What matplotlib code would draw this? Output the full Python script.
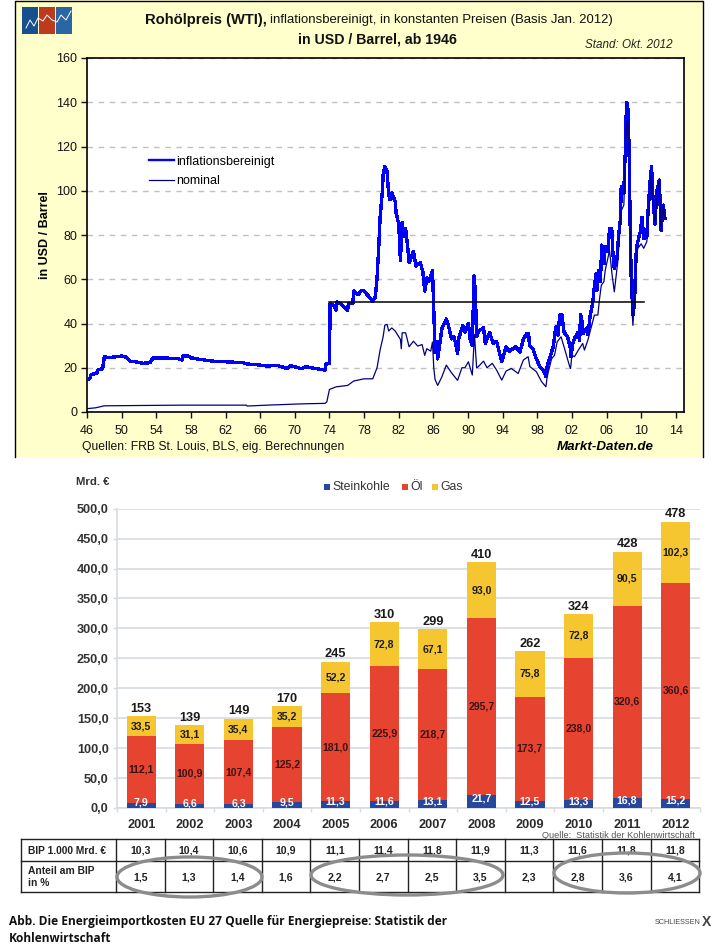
import matplotlib
matplotlib.use('Agg')
import matplotlib.pyplot as plt
from matplotlib.patches import Rectangle, Ellipse

plt.rcParams['font.family'] = ['Liberation Sans', 'DejaVu Sans']

W, H = 718, 948

# oil price, inflation adjusted (year, USD / barrel)
real_years = [
    1946.0, 1946.3, 1946.5, 1947.1, 1947.3, 1947.8, 1948.0, 1948.4, 1949.0, 1950.0,
    1950.5, 1951.0, 1951.7, 1952.5, 1953.3, 1953.6, 1954.8, 1956.4, 1957.0, 1957.1,
    1957.7, 1958.0, 1959.0, 1960.5, 1962.1, 1964.0, 1964.5, 1965.6, 1966.8, 1968.0,
    1969.1, 1969.5, 1970.8, 1971.2, 1972.9, 1973.5, 1973.6, 1974.0, 1974.08, 1974.5,
    1974.75, 1974.85, 1975.3, 1976.1, 1976.2, 1976.7, 1976.8, 1977.3, 1977.7, 1978.0,
    1978.5, 1979.0, 1979.3, 1979.5, 1979.7, 1979.85, 1980.1, 1980.2, 1980.4, 1980.65,
    1980.85, 1981.0, 1981.2, 1981.6, 1981.7, 1982.0, 1982.2, 1982.4, 1982.6, 1982.8,
    1983.1, 1983.2, 1983.7, 1984.0, 1984.5, 1984.8, 1985.0, 1985.25, 1985.5, 1985.9,
    1986.05, 1986.2, 1986.4, 1986.5, 1986.75, 1987.0, 1987.5, 1987.75, 1988.1, 1988.4,
    1988.8, 1988.95, 1989.4, 1989.65, 1990.05, 1990.25, 1990.5, 1990.7, 1990.85, 1991.0,
    1991.2, 1991.8, 1992.0, 1992.5, 1992.9, 1993.3, 1993.9, 1994.4, 1994.8, 1995.5,
    1996.0, 1996.4, 1996.8, 1997.0, 1997.1, 1997.5, 1997.9, 1998.3, 1998.7, 1999.0,
    1999.15, 1999.4, 1999.85, 2000.15, 2000.4, 2000.6, 2000.85, 2001.1, 2001.5, 2001.8,
    2001.9, 2002.1, 2002.4, 2002.7, 2002.9, 2003.0, 2003.15, 2003.3, 2003.7, 2003.85,
    2004.15, 2004.4, 2004.55, 2004.8, 2004.9, 2005.1, 2005.3, 2005.45, 2005.7, 2005.85,
    2006.15, 2006.35, 2006.6, 2006.75, 2006.9, 2007.2, 2007.4, 2007.6, 2007.7, 2008.0,
    2008.1, 2008.2, 2008.3, 2008.45, 2008.6, 2008.75, 2008.85, 2009.05, 2009.25, 2009.3,
    2009.45, 2009.7, 2009.9, 2010.1, 2010.3, 2010.65, 2010.8, 2011.05, 2011.2, 2011.35,
    2011.6, 2011.8, 2012.1, 2012.3, 2012.55, 2012.75,
]
real_price = [
    14.7, 15.0, 17.0, 17.4, 19.2, 19.5, 25.0, 24.5, 24.8, 25.3,
    24.8, 23.0, 22.6, 22.0, 22.3, 24.4, 24.4, 24.2, 23.5, 25.3,
    25.3, 24.5, 23.8, 23.0, 22.7, 22.3, 21.7, 21.4, 20.8, 21.0,
    19.7, 21.0, 19.5, 20.5, 19.3, 19.0, 21.7, 22.0, 49.0, 48.0,
    46.0, 49.7, 49.0, 46.0, 49.0, 49.0, 54.7, 53.0, 55.0, 54.7,
    52.4, 50.0, 52.0, 60.7, 75.0, 88.0, 99.0, 107.0, 111.0, 109.0,
    98.0, 96.0, 99.0, 95.0, 90.0, 85.0, 68.5, 85.6, 79.6, 83.0,
    72.0, 67.5, 72.5, 66.0, 67.5, 63.0, 54.7, 60.7, 59.0, 64.0,
    46.4, 26.8, 32.0, 24.0, 31.0, 38.0, 42.0, 39.0, 33.0, 34.0,
    26.5, 33.5, 39.0, 36.0, 40.0, 33.0, 30.0, 61.5, 54.0, 34.0,
    36.5, 38.0, 31.0, 36.0, 31.0, 32.0, 22.7, 29.5, 27.5, 29.5,
    27.0, 33.0, 35.5, 35.5, 30.0, 28.7, 24.0, 20.5, 19.0, 16.0,
    20.5, 24.0, 29.5, 38.5, 34.8, 43.8, 44.0, 36.0, 34.0, 29.5,
    25.0, 31.0, 34.0, 36.0, 32.5, 44.0, 41.5, 35.5, 38.0, 35.0,
    44.5, 49.0, 55.0, 62.6, 55.0, 64.0, 59.0, 75.4, 67.0, 74.7,
    72.4, 83.0, 83.0, 71.0, 65.0, 69.0, 80.0, 86.7, 101.7, 98.7,
    111.5, 119.0, 140.0, 138.6, 120.6, 80.0, 61.0, 43.8, 49.8, 58.8,
    73.9, 78.4, 81.4, 88.0, 78.4, 79.0, 91.0, 104.8, 111.0, 98.0,
    85.0, 99.5, 104.8, 82.0, 93.5, 87.4,
]

# oil price, nominal
nominal_years = [
    1946.0, 1947.0, 1948.0, 1957.0, 1964.4, 1964.5, 1966.8, 1971.0, 1973.5, 1973.7,
    1974.0, 1974.8, 1976.1, 1976.8, 1978.0, 1979.0, 1979.5, 1979.85, 1980.2, 1980.4,
    1980.65, 1980.85, 1981.2, 1981.6, 1982.2, 1982.3, 1982.4, 1982.8, 1983.2, 1983.7,
    1984.2, 1984.7, 1985.0, 1985.25, 1985.7, 1985.9, 1986.05, 1986.2, 1986.5, 1987.0,
    1987.5, 1988.1, 1988.8, 1989.3, 1989.65, 1990.05, 1990.5, 1990.75, 1991.0, 1991.2,
    1991.8, 1992.2, 1992.8, 1993.3, 1993.9, 1994.4, 1995.0, 1995.8, 1996.4, 1996.95,
    1997.15, 1997.9, 1998.5, 1999.0, 1999.15, 1999.65, 2000.0, 2000.3, 2000.75, 2001.15,
    2001.75, 2001.85, 2002.0, 2002.3, 2002.75, 2003.25, 2003.45, 2003.85, 2004.2, 2004.6,
    2005.0, 2005.2, 2005.4, 2005.7, 2005.85, 2006.35, 2006.65, 2006.9, 2007.3, 2007.7,
    2008.0, 2008.3, 2008.45, 2008.6, 2008.75, 2008.85, 2009.05, 2009.2, 2009.35, 2009.6,
    2010.0, 2010.3, 2010.65, 2010.9, 2011.15, 2011.3, 2011.6, 2011.9, 2012.1, 2012.3,
    2012.55, 2012.75,
]
nominal_price = [
    1.5, 1.9, 2.8, 3.1, 3.1, 2.7, 3.1, 3.7, 3.9, 4.6,
    10.2, 11.4, 12.0, 14.0, 15.0, 15.0, 20.0, 28.0, 34.0, 39.3,
    39.6, 36.6, 38.0, 36.6, 32.8, 28.6, 35.8, 35.8, 29.5, 32.0,
    29.8, 30.5, 25.6, 28.6, 27.5, 31.6, 20.0, 14.7, 12.0, 16.0,
    21.2, 17.7, 14.3, 20.0, 20.0, 22.7, 16.7, 35.0, 20.0, 20.5,
    23.0, 20.0, 22.0, 19.0, 14.4, 18.5, 19.7, 17.4, 23.5, 25.0,
    20.5, 18.2, 13.7, 11.4, 16.0, 24.0, 25.7, 31.7, 34.0, 28.7,
    20.5, 19.7, 25.7, 25.0, 28.0, 31.0, 28.0, 32.5, 37.8, 43.8,
    43.8, 51.3, 57.3, 58.9, 64.0, 73.0, 61.8, 54.3, 67.9, 91.0,
    93.5, 128.0, 132.6, 120.6, 80.0, 52.8, 39.2, 49.0, 64.0, 73.9,
    76.0, 74.0, 77.0, 91.0, 107.0, 98.0, 86.0, 100.0, 105.5, 82.0,
    93.5, 87.4,
]

price_ticks = [0, 20, 40, 60, 80, 100, 120, 140, 160]
year_ticks = list(range(1946, 2015, 4))
level_years = [1974.0, 2010.3]
level_price = [49.7, 49.7]

# energy import costs EU 27
cost_years = ['2001', '2002', '2003', '2004', '2005', '2006', '2007', '2008', '2009', '2010', '2011', '2012']
coal = [7.9, 6.6, 6.3, 9.5, 11.3, 11.6, 13.1, 21.7, 12.5, 13.3, 16.8, 15.2]
oil = [112.1, 100.9, 107.4, 125.2, 181.0, 225.9, 218.7, 295.7, 173.7, 238.0, 320.6, 360.6]
gas = [33.5, 31.1, 35.4, 35.2, 52.2, 72.8, 67.1, 93.0, 75.8, 72.8, 90.5, 102.3]
totals = [153, 139, 149, 170, 245, 310, 299, 410, 262, 324, 428, 478]
cost_ticks = [0, 50, 100, 150, 200, 250, 300, 350, 400, 450, 500]

bip = ['10,3', '10,4', '10,6', '10,9', '11,1', '11,4', '11,8', '11,9', '11,3', '11,6', '11,8', '11,8']
share = ['1,5', '1,3', '1,4', '1,6', '2,2', '2,7', '2,5', '3,5', '2,3', '2,8', '3,6', '4,1']


def de(v, digits=1):
    return f'{v:.{digits}f}'.replace('.', ',')


def px_axes(fig, left, top, right, bottom, **kw):
    return fig.add_axes([left / W, 1 - bottom / H, (right - left) / W, (bottom - top) / H], **kw)


fig = plt.figure(figsize=(W / 100, H / 100), dpi=100, facecolor='white')

# full page layer in pixel coordinates, for the frame, texts and the table
page = px_axes(fig, 0, 0, W, H, zorder=0)
page.set_xlim(0, W)
page.set_ylim(H, 0)
page.axis('off')

panel_color = '#ffffcc'
page.add_patch(Rectangle((15, 0), 688, 457, fc=panel_color, ec='none'))
page.plot([15, 15, 703, 703], [457, 0.5, 0.5, 457], color='black', lw=1)

# logo
for x0, c in zip([22, 39, 56], ['#17508f', '#bd3a1e', '#2a66a5']):
    page.add_patch(Rectangle((x0, 7), 15.5, 27, fc=c, ec='none'))
page.plot([26, 30, 34, 38, 43, 47, 52, 57, 61, 66, 71],
          [28, 20, 26, 18, 21, 15, 20, 22, 15, 20, 11], color='white', lw=0.7)

page.text(145, 20, 'Rohölpreis (WTI),', fontsize=10.6, fontweight='bold', va='center', color='#111111')
page.text(270, 20, 'inflationsbereinigt, in konstanten Preisen (Basis Jan. 2012)', fontsize=9.45,
          va='center', color='#111111')
page.text(377, 39, 'in USD / Barrel, ab 1946', fontsize=10.2, fontweight='bold', ha='center', va='center',
          color='#111111')
page.text(585, 44.5, 'Stand: Okt. 2012', fontsize=8.4, style='italic', va='center', color='#222222')
page.text(82, 447, 'Quellen: FRB St. Louis, BLS, eig. Berechnungen', fontsize=8.7, va='center', color='#111111')
page.text(557, 447, 'Markt-Daten.de', fontsize=9.6, fontweight='bold', style='italic', va='center', color='black')

# price chart
ax = px_axes(fig, 87, 58, 684, 412, zorder=1)
ax.set_facecolor('white')
ax.plot(real_years, real_price, color='#0000ff', lw=1.7, antialiased=False, label='inflationsbereinigt', zorder=3)
ax.plot(nominal_years, nominal_price, color='#000080', lw=0.9, label='nominal', zorder=4)
ax.plot(level_years, level_price, color='black', lw=1.1, zorder=5)
ax.set_xlim(1946, 2014.95)
ax.set_ylim(0, 160)
ax.set_yticks(price_ticks)
ax.set_xticks(year_ticks)
ax.set_xticklabels([f'{y % 100:02d}' for y in year_ticks])
ax.tick_params(labelsize=9, length=4, width=1, pad=5, colors='#111111')
ax.tick_params(axis='y', pad=3)
ax.yaxis.grid(True, color='#c0c0c0', ls=(0, (4, 4)), lw=1)
ax.set_axisbelow(True)
ax.set_ylabel('in USD / Barrel', fontsize=9, fontweight='bold', labelpad=4)
for s in ax.spines.values():
    s.set_linewidth(1.2)
ax.legend(loc='upper left', bbox_to_anchor=(0.104, 0.724), frameon=False, fontsize=9,
          handlelength=2.0, handletextpad=0.2, labelspacing=0.6, borderpad=0, borderaxespad=0)

# cost chart
ax2 = px_axes(fig, 117, 508.7, 700, 808, zorder=1)
pos = list(range(len(cost_years)))
grid_color = '#d6dbe2'
bottoms_oil = coal
bottoms_gas = [c + o for c, o in zip(coal, oil)]
bars_coal = ax2.bar(pos, coal, width=0.6, color='#27479a', zorder=3)
bars_oil = ax2.bar(pos, oil, width=0.6, bottom=bottoms_oil, color='#e64331', zorder=3)
bars_gas = ax2.bar(pos, gas, width=0.6, bottom=bottoms_gas, color='#f6c630', zorder=3)

for bars, values, col, dy in [(bars_coal, coal, 'white', 2), (bars_oil, oil, '#3a1414', 0), (bars_gas, gas, '#1c1c1c', 0)]:
    for b, v in zip(bars, values):
        ax2.annotate(de(v), (b.get_x() + b.get_width() / 2, b.get_y() + b.get_height() / 2), xytext=(0, dy),
                     textcoords='offset points', ha='center', va='center', fontsize=7.6, fontweight='bold',
                     color=col, zorder=5)
for p, top, t in zip(pos, bottoms_gas, totals):
    ax2.annotate(str(t), (p, top + gas[p]), xytext=(0, 1), textcoords='offset points', ha='center', va='bottom',
                 fontsize=9.2, fontweight='bold', color='#1a1a1a', zorder=5)

ax2.set_xlim(-0.5, 11.5)
ax2.set_ylim(0, 500)
ax2.set_yticks(cost_ticks)
ax2.set_yticklabels([de(v) for v in cost_ticks])
ax2.set_xticks(pos)
ax2.set_xticklabels(cost_years)
ax2.set_xticks([p - 0.5 for p in pos] + [11.5], minor=True)
ax2.tick_params(axis='x', which='major', length=0, pad=8, labelsize=9.2, labelcolor='#2a2a2a')
ax2.tick_params(axis='x', which='minor', length=3, color=grid_color, width=1)
ax2.tick_params(axis='y', length=3, color=grid_color, width=1, pad=3, labelsize=9.2, labelcolor='#333333')
for lab in ax2.get_xticklabels() + ax2.get_yticklabels():
    lab.set_fontweight('bold')
ax2.yaxis.grid(True, color=grid_color, lw=1.2, zorder=0)
ax2.set_axisbelow(True)
for name in ['top', 'right']:
    ax2.spines[name].set_visible(False)
ax2.spines['left'].set_color(grid_color)
ax2.spines['bottom'].set_color(grid_color)
ax2.spines['left'].set_linewidth(1.2)
ax2.spines['bottom'].set_linewidth(1.2)

page.text(76, 482, 'Mrd. €', fontsize=8.2, fontweight='bold', va='center', color='#333333')
for x0, c, label in [(324, '#27479a', 'Steinkohle'), (402, '#e64331', 'Öl'), (432, '#f6c630', 'Gas')]:
    page.add_patch(Rectangle((x0, 483.5), 6, 6, fc=c, ec='none'))
    page.text(x0 + 8, 486.5, label, fontsize=8.8, va='center', color='#333333')
page.text(695, 836, 'Quelle:  Statistik der Kohlenwirtschaft', fontsize=6.6, ha='right', va='center', color='#555555')

# table below the bars
tx = [21, 116] + [116 + 48.6 * (i + 1) for i in range(12)]
ty = [839, 861, 892]
for y in ty:
    page.plot([tx[0], tx[-1]], [y, y], color='#222222', lw=1)
for x in tx:
    page.plot([x, x], [ty[0], ty[-1]], color='#222222', lw=1)
page.text(28, 850.5, 'BIP 1.000 Mrd. €', fontsize=7.4, fontweight='bold', va='center', color='#222222')
page.text(28, 871, 'Anteil am BIP', fontsize=7.4, fontweight='bold', va='center', color='#222222')
page.text(28, 883, 'in %', fontsize=7.4, fontweight='bold', va='center', color='#222222')
for i in range(12):
    xc = (tx[i + 1] + tx[i + 2]) / 2
    page.text(xc, 850.5, bip[i], fontsize=7.6, fontweight='bold', ha='center', va='center', color='#222222')
    page.text(xc, 877, share[i], fontsize=7.6, fontweight='bold', ha='center', va='center', color='#222222')
for xa, xb, ya, yb in [(117, 262, 857, 897), (311, 503, 855, 895), (554, 700, 853, 893)]:
    page.add_patch(Ellipse(((xa + xb) / 2, (ya + yb) / 2), xb - xa, yb - ya, fc='none', ec='#8c8c8c', lw=2.4, zorder=6))

# caption
page.text(9, 922, 'Abb. Die Energieimportkosten EU 27 Quelle für Energiepreise: Statistik der', fontsize=8.55,
          fontweight='bold', family='Open Sans', va='center', color='#111111')
page.text(9, 938.5, 'Kohlenwirtschaft', fontsize=8.55, fontweight='bold', family='Open Sans', va='center', color='#111111')
page.text(701, 922, 'SCHLIESSEN', fontsize=5.2, ha='right', va='center', color='#444444')
page.text(707, 921.5, 'X', fontsize=10, fontweight='bold', ha='center', va='center', color='#444444')

fig.savefig('out.png', dpi=100)
